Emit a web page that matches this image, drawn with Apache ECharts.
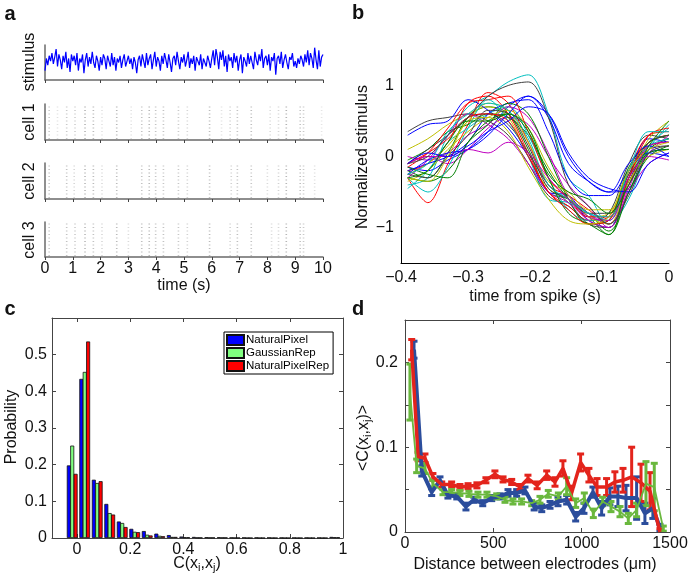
<!DOCTYPE html>
<html><head><meta charset="utf-8">
<script src="https://cdn.jsdelivr.net/npm/echarts@6/dist/echarts.min.js"></script>
<style>html,body{margin:0;padding:0;background:#fff}#c{width:694px;height:588px}</style>
</head><body><div id="c"></div>
<script>
const FONT = '"Liberation Sans", Arial, Helvetica, sans-serif';

// ---------- panel a ----------
const STIM_DT = 0.05; // seconds between stimulus samples
const stimValues = [
 -0.6,0.3,-0.2,0.5,0.1,0.7,-0.1,0.4,1.0,-0.3,0.6,0.2,-0.5,0.5,0.0,0.8,-0.4,0.3,-0.7,0.6,
 0.1,0.5,-0.2,0.7,-0.6,0.3,0.0,0.6,-0.8,0.2,0.7,-0.3,0.4,-0.1,0.8,0.0,-0.4,0.5,0.1,-0.6,
 0.4,-0.2,0.6,0.3,-0.5,0.5,0.1,-0.3,0.7,-0.2,0.4,-0.6,0.3,0.0,0.5,-0.4,0.2,0.6,-0.3,0.1,
 0.5,-0.1,0.3,-0.5,0.4,0.0,-0.8,0.2,0.5,-0.3,0.6,0.1,-0.4,0.7,-0.2,0.3,0.6,-0.5,0.2,0.8,
 -0.3,0.4,0.1,-0.6,0.5,-0.1,0.7,0.2,-0.4,0.6,0.0,-0.7,0.3,0.5,-0.2,0.8,0.1,-0.5,0.4,0.0,
 0.6,-0.3,0.2,0.8,-0.4,0.3,-0.1,0.5,-0.6,0.4,0.1,-0.2,0.6,-0.5,0.3,0.0,-0.3,0.5,0.1,-0.4,
 0.3,0.9,-0.2,1.0,0.4,-0.5,0.8,0.2,0.9,-0.3,0.5,-0.7,0.6,0.1,0.4,-0.4,0.7,0.0,0.5,-0.6,
 0.2,0.6,-0.8,0.4,0.1,-0.3,0.7,-0.1,0.5,0.0,-0.5,0.8,0.2,-0.2,0.6,0.1,1.0,-0.4,0.3,0.5,
 -0.2,0.6,-0.6,0.4,0.1,0.7,-0.9,0.3,0.5,-0.1,0.8,-0.4,0.2,0.6,0.0,-0.5,0.4,0.2,0.7,-0.3,
 0.1,-0.4,0.3,-0.1,0.5,0.2,-0.3,0.6,0.0,0.9,-0.2,0.7,0.3,-0.4,1.1,0.2,-0.5,0.9,-0.3,0.4,0.6
];
// spike-time columns: [time (s), strength 0..1]
const cell1Events = [[0.15,0.5],[0.45,0.2],[0.78,0.5],[1.08,0.45],[1.44,0.8],[1.74,0.7],[2.05,0.2],[2.58,0.75],[3.1,0.2],[3.48,0.6],[3.75,0.75],[3.98,0.6],[4.26,0.6],[4.8,0.5],[5.12,0.35],[5.92,0.7],[6.35,0.2],[6.66,0.4],[6.92,0.6],[7.42,0.65],[8.1,0.3],[8.4,0.35],[8.68,0.8],[9.18,0.6],[9.3,0.5],[9.95,0.15]];
const cell2Events = [[0.15,0.6],[0.78,0.6],[1.05,0.35],[1.44,0.75],[1.74,0.7],[2.05,0.3],[2.58,0.7],[3.48,0.6],[3.75,0.7],[3.98,0.6],[4.26,0.55],[4.8,0.55],[5.12,0.4],[5.92,0.65],[6.7,0.4],[6.92,0.6],[7.42,0.55],[8.0,0.3],[8.4,0.4],[8.68,0.75],[9.18,0.65],[9.3,0.5],[9.7,0.25]];
const cell3Events = [[0.15,0.55],[0.78,0.6],[1.08,0.5],[1.44,0.75],[1.74,0.6],[2.05,0.35],[2.58,0.7],[3.0,0.3],[3.48,0.65],[3.75,0.7],[3.98,0.6],[4.26,0.6],[4.8,0.55],[5.12,0.4],[5.92,0.7],[6.66,0.4],[6.92,0.65],[7.42,0.6],[8.15,0.3],[8.4,0.35],[8.68,0.75],[9.18,0.6],[9.3,0.5]];
const timeTicks = [0,1,2,3,4,5,6,7,8,9,10];

// ---------- panel b ----------
const staTimes = [-0.39,-0.36,-0.33,-0.30,-0.27,-0.24,-0.21,-0.18,-0.15,-0.12,-0.09,-0.06,-0.03,0];
const staCurves = [
 [-0.15,-0.2,-0.05,0.1,0.35,0.7,0.85,0.6,0.0,-0.35,-0.5,-0.45,0.05,0.1],
 [-0.2,-0.3,0.05,0.55,0.7,0.6,0.1,-0.5,-0.6,-0.8,-1.05,-0.5,0.1,0.25],
 [-0.3,-0.65,-0.1,0.45,0.9,0.75,0.2,-0.4,-0.55,-0.75,-0.95,-0.4,0.2,0.3],
 [-0.4,-0.3,0.3,0.7,0.85,1.05,1.15,0.6,-0.3,-0.55,-0.95,-0.6,0.1,0.45],
 [-0.1,0.0,-0.1,0.1,0.4,0.55,0.45,0.0,-0.4,-0.7,-1.0,-0.5,-0.1,0.05],
 [0.1,0.25,0.45,0.6,0.7,0.55,0.0,-0.45,-0.6,-0.85,-0.8,-0.2,0.2,0.3],
 [0.35,0.5,0.55,0.6,0.5,0.3,-0.1,-0.55,-0.7,-0.9,-0.8,-0.1,0.3,0.25],
 [0.3,0.45,0.5,0.8,0.65,0.4,0.0,-0.5,-0.55,-0.9,-1.0,-0.3,0.25,0.2],
 [-0.05,0.1,0.35,0.45,0.6,0.55,0.3,-0.2,-0.6,-0.85,-1.1,-0.5,0.0,0.15],
 [-0.2,-0.1,0.2,0.75,0.85,0.6,0.05,-0.5,-0.7,-0.9,-0.85,-0.2,0.3,0.35],
 [-0.45,-0.2,0.2,0.4,0.6,0.7,0.3,-0.3,-0.75,-0.9,-0.9,-0.3,0.15,0.4],
 [0.0,-0.05,0.05,0.3,0.45,0.7,0.55,0.05,-0.55,-0.8,-0.95,-0.4,0.05,0.3],
 [-0.25,-0.1,0.15,0.5,0.75,0.65,0.2,-0.35,-0.5,-0.75,-0.75,-0.3,0.25,0.5],
 [-0.1,0.1,0.3,0.55,0.6,0.45,0.05,-0.4,-0.65,-0.95,-1.0,-0.35,0.1,0.15],
 [-0.2,-0.1,0.0,0.2,0.6,0.75,0.8,0.35,-0.3,-0.55,-0.55,-0.2,0.05,0.0],
 [-0.3,-0.35,-0.2,0.2,0.45,0.75,0.6,0.0,-0.6,-0.95,-0.9,-0.15,0.2,0.3],
 [-0.15,0.05,0.4,0.75,0.8,0.85,0.35,-0.3,-0.6,-0.85,-0.85,-0.25,0.15,0.2],
 [-0.3,-0.5,-0.15,0.4,0.8,0.5,0.0,-0.6,-0.65,-0.8,-0.9,-0.2,0.15,0.25],
 [-0.3,-0.05,0.3,0.6,0.45,0.25,-0.1,-0.5,-0.65,-0.9,-1.0,-0.45,0.15,0.2],
 [-0.35,-0.2,0.1,0.35,0.55,0.65,0.4,-0.15,-0.55,-0.85,-0.95,-0.35,0.0,0.1],
 [-0.25,-0.3,0.0,0.3,0.65,0.6,0.15,-0.45,-0.6,-0.8,-0.8,-0.25,0.2,0.3],
 [-0.25,-0.05,0.05,0.1,0.3,0.6,0.85,0.55,-0.1,-0.35,-0.5,-0.1,0.15,0.0],
 [-0.15,-0.25,-0.3,0.2,0.5,0.6,0.4,-0.3,-0.8,-0.95,-1.1,-0.3,0.05,0.1],
 [-0.1,0.05,0.25,0.55,0.6,0.5,0.0,-0.5,-0.75,-0.95,-0.9,-0.3,0.3,0.4],
 [-0.25,-0.1,0.35,0.6,0.75,0.65,0.25,-0.4,-0.6,-0.8,-0.85,-0.2,0.35,0.35],
 [-0.1,0.0,0.0,0.1,0.05,0.2,0.05,-0.3,-0.6,-0.85,-0.9,-0.3,0.0,-0.05],
 [-0.3,-0.35,0.0,0.5,0.55,0.35,-0.15,-0.6,-0.9,-0.95,-0.85,-0.2,0.1,0.2],
 [-0.1,0.0,0.3,0.55,0.85,1.0,1.05,0.55,-0.4,-0.7,-0.95,-0.55,0.05,0.15],
 [-0.1,0.05,0.0,0.15,0.35,0.5,0.7,0.6,0.05,-0.3,-0.45,-0.5,-0.1,0.05],
 [-0.3,-0.2,0.2,0.5,0.5,0.6,0.35,-0.25,-0.5,-0.6,-0.8,-0.4,0.15,0.5]
];
const staColors = ['#0000ff','#008000','#ff0000','#00bfbf','#bf00bf','#bfbf00','#404040'];

// ---------- panel c ----------
const binCenters = [-0.018,0.029,0.076,0.123,0.170,0.217,0.264,0.311,0.358,0.405,0.452,0.499,0.546,0.593,0.640,0.687,0.734,0.781,0.828,0.875,0.922,0.969];
const naturalPixel = [0.198,0.434,0.159,0.093,0.045,0.025,0.019,0.012,0.008,0.004,0.003,0.002,0.002,0.001,0.001,0.001,0.001,0.0006,0.0006,0.0006,0.0006,0.003];
const gaussianRep = [0.252,0.453,0.150,0.068,0.041,0.017,0.009,0.006,0.003,0.002,0.001,0.001,0.001,0.0005,0,0,0,0,0,0,0,0.002];
const naturalPixelRep = [0.175,0.536,0.155,0.064,0.030,0.016,0.007,0.005,0.003,0.002,0.001,0.001,0.001,0.0005,0,0,0,0,0,0,0,0.002];
const cXTicks = [0,0.2,0.4,0.6,0.8,1];

// ---------- panel d ----------
const blueX = [51,95,151,198,243,293,345,390,440,491,538,583,632,679,731,774,821,866,915,966,1013,1064,1113,1160,1205,1251,1311,1358,1403,1443];
const blueY = [0.215,0.072,0.047,0.061,0.043,0.042,0.030,0.038,0.034,0.040,0.042,0.046,0.046,0.049,0.030,0.028,0.032,0.036,0.038,0.018,0.028,0.047,0.028,0.042,0.042,0.040,0.040,0.022,0.028,0.005];
const blueErr = [0.010,0.006,0.004,0.004,0.003,0.003,0.004,0.003,0.003,0.003,0.003,0.004,0.004,0.004,0.004,0.004,0.004,0.005,0.005,0.005,0.006,0.006,0.008,0.010,0.012,0.015,0.025,0.012,0.012,0.004];
const redX = [38,74,113,158,208,264,311,357,407,458,509,555,604,651,696,748,802,849,894,943,994,1041,1087,1141,1188,1234,1283,1336,1387,1443];
const redY = [0.215,0.089,0.087,0.065,0.056,0.056,0.053,0.054,0.055,0.061,0.068,0.062,0.059,0.053,0.063,0.055,0.067,0.059,0.075,0.046,0.082,0.067,0.053,0.053,0.059,0.061,0.065,0.058,0.048,0.0];
const redErr = [0.012,0.005,0.005,0.004,0.003,0.003,0.003,0.003,0.003,0.003,0.004,0.003,0.003,0.003,0.004,0.004,0.005,0.005,0.009,0.008,0.010,0.008,0.010,0.010,0.012,0.014,0.035,0.022,0.022,0.004];
const greenX = [28,66,113,158,215,264,311,362,413,464,519,566,611,660,717,764,811,868,915,966,1015,1066,1119,1166,1217,1264,1311,1364,1411,1462];
const greenY = [0.165,0.078,0.075,0.057,0.047,0.047,0.046,0.045,0.044,0.044,0.042,0.038,0.036,0.036,0.034,0.038,0.045,0.042,0.054,0.034,0.040,0.022,0.036,0.030,0.024,0.016,0.026,0.057,0.053,0.004];
const greenErr = [0.033,0.008,0.006,0.004,0.003,0.003,0.003,0.003,0.003,0.003,0.003,0.003,0.003,0.003,0.003,0.004,0.004,0.004,0.010,0.005,0.006,0.005,0.005,0.006,0.006,0.006,0.008,0.026,0.028,0.003];

// ---------- build ----------
const chart = echarts.init(document.getElementById('c'), null, {renderer:'canvas'});
const lab = (o) => Object.assign({fontSize:16, color:'#111', fontFamily:FONT}, o||{});
const minusFmt = v => { const a = Math.abs(v); if (a < 1e-9) return '0'; return (v < 0 ? '\u2212' : '') + String(+a.toFixed(3)); };
const plainFmt = v => String(+(+v).toFixed(3));

const grids = [
  {left:45, top:45, width:278, height:35},
  {left:45, top:104, width:278, height:36},
  {left:45, top:163, width:278, height:36},
  {left:45, top:222, width:278, height:35},
  {left:401, top:50, width:268, height:213},
  {left:52, top:318, width:291, height:220},
  {left:405, top:320, width:265, height:212}
];
const xAxes = [], yAxes = [];
const aLineA = {show:true, onZero:false, lineStyle:{color:'#6a6a6a', width:1.5}};
for (let i = 0; i < 4; i++) {
  xAxes.push({type:'value', gridIndex:i, min:0, max:10, interval:1, axisLine:aLineA,
    axisTick:{show:true, length:3, lineStyle:{color:'#444'}}, splitLine:{show:false},
    axisLabel: lab({show: i === 3, margin:4, customValues: timeTicks, formatter: plainFmt})});
  yAxes.push({type:'value', gridIndex:i, min: i === 0 ? -1.3 : 0, max: i === 0 ? 1.3 : 1,
    axisLine:aLineA, axisTick:{show:false}, axisLabel:{show:false}, splitLine:{show:false}});
}
// b
xAxes.push({type:'value', gridIndex:4, min:-0.4, max:0, interval:0.1,
  axisLine:{show:true, onZero:false, lineStyle:{color:'#000', width:1}}, axisTick:{show:false},
  splitLine:{show:false}, axisLabel: lab({margin:7, formatter:minusFmt})});
yAxes.push({type:'value', gridIndex:4, min:-1.5, max:1.5, interval:0.5,
  axisLine:{show:true, onZero:false, lineStyle:{color:'#000', width:1}}, axisTick:{show:false},
  splitLine:{show:false}, axisLabel: lab({margin:7, formatter: v => Math.abs(v - Math.round(v)) < 1e-9 ? minusFmt(v) : ''})});
// c
const boxLine = {show:true, onZero:false, lineStyle:{color:'#444', width:1}};
xAxes.push({type:'value', gridIndex:5, min:-0.094, max:1.0, axisLine:boxLine,
  axisTick:{show:true, inside:true, length:4, customValues:cXTicks, lineStyle:{color:'#444'}},
  splitLine:{show:false}, axisLabel: lab({margin:4, customValues:cXTicks, formatter: plainFmt})});
xAxes.push({type:'value', gridIndex:5, position:'top', min:-0.094, max:1.0, axisLine:boxLine,
  axisTick:{show:true, inside:true, length:4, customValues:cXTicks, lineStyle:{color:'#444'}},
  splitLine:{show:false}, axisLabel:{show:false}});
yAxes.push({type:'value', gridIndex:5, min:0, max:0.6, interval:0.1, axisLine:boxLine,
  axisTick:{show:true, inside:true, length:4, lineStyle:{color:'#444'}}, splitLine:{show:false},
  axisLabel: lab({margin:5, formatter: v => v > 0.55 ? '' : plainFmt(v)})});
yAxes.push({type:'value', gridIndex:5, position:'right', min:0, max:0.6, interval:0.1, axisLine:boxLine,
  axisTick:{show:true, inside:true, length:4, lineStyle:{color:'#444'}}, splitLine:{show:false},
  axisLabel:{show:false}});
// d
xAxes.push({type:'value', gridIndex:6, min:0, max:1500, interval:500, axisLine:boxLine,
  axisTick:{show:true, inside:true, length:4, lineStyle:{color:'#444'}}, splitLine:{show:false},
  axisLabel: lab({margin:4, formatter: plainFmt})});
xAxes.push({type:'value', gridIndex:6, position:'top', min:0, max:1500, interval:500, axisLine:boxLine,
  axisTick:{show:true, inside:true, length:4, lineStyle:{color:'#444'}}, splitLine:{show:false},
  axisLabel:{show:false}});
const dLabelFmt = v => Math.abs(v * 10 - Math.round(v * 10)) < 1e-6 && v < 0.22 ? plainFmt(v) : '';
yAxes.push({type:'value', gridIndex:6, min:0, max:0.25, interval:0.05, axisLine:boxLine,
  axisTick:{show:true, inside:true, length:4, lineStyle:{color:'#444'}}, splitLine:{show:false},
  axisLabel: lab({margin:7, formatter:dLabelFmt})});
yAxes.push({type:'value', gridIndex:6, position:'right', min:0, max:0.25, interval:0.05, axisLine:boxLine,
  axisTick:{show:true, inside:true, length:4, lineStyle:{color:'#444'}}, splitLine:{show:false},
  axisLabel:{show:false}});

const series = [];
// stimulus
series.push({type:'line', xAxisIndex:0, yAxisIndex:0, symbol:'none', silent:true,
  data: stimValues.map((v, i) => [i * STIM_DT, v]), lineStyle:{color:'#0000ff', width:1.2}});
// rasters
[cell1Events, cell2Events, cell3Events].forEach((ev, k) => {
  series.push({type:'custom', xAxisIndex:k + 1, yAxisIndex:k + 1, silent:true,
    encode:{x:0, y:1}, data: ev,
    renderItem: (params, api) => {
      const t = api.value(0), s = api.value(1);
      const p1 = api.coord([t, 0.03]), p2 = api.coord([t, 0.97]);
      return {type:'line', shape:{x1:p1[0], y1:p1[1], x2:p2[0], y2:p2[1]},
        style:{stroke:'rgba(0,0,0,' + (0.06 + 0.3 * s).toFixed(3) + ')', lineWidth:1.6, lineDash:[1, 2.5]}};
    }});
});
// b curves
staCurves.forEach((c, i) => {
  series.push({type:'line', xAxisIndex:4, yAxisIndex:4, symbol:'none', silent:true, smooth:0.35,
    data: staTimes.map((t, j) => [t, c[j]]), lineStyle:{color: staColors[i % staColors.length], width:1}});
});
// c bars
[['NaturalPixel', naturalPixel, '#0000ff'], ['GaussianRep', gaussianRep, '#80ff80'], ['NaturalPixelRep', naturalPixelRep, '#ff0000']]
.forEach(([name, vals, col]) => {
  series.push({type:'bar', name, xAxisIndex:5, yAxisIndex:5, barWidth:4, barGap:'-15%', silent:true,
    data: binCenters.map((x, i) => [x, vals[i]]),
    itemStyle:{color:col, borderColor:'#111', borderWidth:0.8}});
});
// d lines + error bars
function errSeries(xs, ys, es, col, lw) {
  series.push({type:'line', xAxisIndex:7, yAxisIndex:7, symbol:'none', silent:true,
    data: xs.map((x, i) => [x, ys[i]]), lineStyle:{color:col, width:lw}});
  series.push({type:'custom', xAxisIndex:7, yAxisIndex:7, silent:true, clip:true, encode:{x:0, y:1},
    data: xs.map((x, i) => [x, ys[i], es[i]]),
    renderItem: (params, api) => {
      const x = api.value(0), y = api.value(1), e = api.value(2);
      const a = api.coord([x, y + e]), b = api.coord([x, y - e]);
      const hw = 3.5, st = {stroke:col, lineWidth:3};
      return {type:'group', children:[
        {type:'line', shape:{x1:a[0], y1:a[1], x2:b[0], y2:b[1]}, style:st},
        {type:'line', shape:{x1:a[0] - hw, y1:a[1], x2:a[0] + hw, y2:a[1]}, style:st},
        {type:'line', shape:{x1:b[0] - hw, y1:b[1], x2:b[0] + hw, y2:b[1]}, style:st}
      ]};
    }});
}
errSeries(blueX, blueY, blueErr, '#2b4d9c', 4);
errSeries(redX, redY, redErr, '#e3241c', 3.5);
errSeries(greenX, greenY, greenErr, '#6ab83e', 1.8);

const txt = (x, y, text, o) => Object.assign({type:'text', x, y, silent:true,
  style: Object.assign({text, fontSize:16, fontFamily:FONT, fill:'#111', align:'center', verticalAlign:'middle'}, (o && o.style) || {})},
  o && o.rotation ? {rotation:o.rotation} : {});
const R = Math.PI / 2;
const subRich = {s:{fontSize:11, fontFamily:FONT, fill:'#111', padding:[8,0,0,0]}, n:{fontSize:16, fontFamily:FONT, fill:'#111'}};
const graphics = [
  txt(10, 14, 'a', {style:{fontSize:20, fontWeight:'bold'}}),
  txt(358, 13, 'b', {style:{fontSize:20, fontWeight:'bold'}}),
  txt(10, 309, 'c', {style:{fontSize:20, fontWeight:'bold'}}),
  txt(358, 309, 'd', {style:{fontSize:20, fontWeight:'bold'}}),
  txt(30, 62, 'stimulus', {rotation:R}),
  txt(30, 122, 'cell 1', {rotation:R}),
  txt(30, 181, 'cell 2', {rotation:R}),
  txt(30, 240, 'cell 3', {rotation:R}),
  txt(184, 286, 'time (s)'),
  txt(363, 157, 'Normalized stimulus', {rotation:R}),
  txt(535, 297, 'time from spike (s)'),
  txt(12, 427, 'Probability', {rotation:R}),
  txt(197, 564, '{n|C(x}{s|i}{n|,x}{s|j}{n|)}', {style:{rich:subRich}}),
  txt(364, 438, '{n|<C(x}{s|i}{n|,x}{s|j}{n|)>}', {rotation:R, style:{rich:subRich}}),
  txt(535, 565, 'Distance between electrodes (\u03bcm)')
];

chart.setOption({
  backgroundColor:'#fff',
  animation:false,
  grid: grids,
  xAxis: xAxes,
  yAxis: yAxes,
  legend: {data:['NaturalPixel','GaussianRep','NaturalPixelRep'], orient:'vertical', left:224, top:332,
    selectedMode:false, backgroundColor:'#fff', borderColor:'#000', borderWidth:1, padding:[2,4,2,2],
    itemGap:1, itemWidth:17, itemHeight:10, icon:'rect',
    textStyle:{fontSize:11.5, fontFamily:FONT, color:'#000', padding:[0,0,0,-3]}},
  series,
  graphic: graphics
});
</script></body></html>
